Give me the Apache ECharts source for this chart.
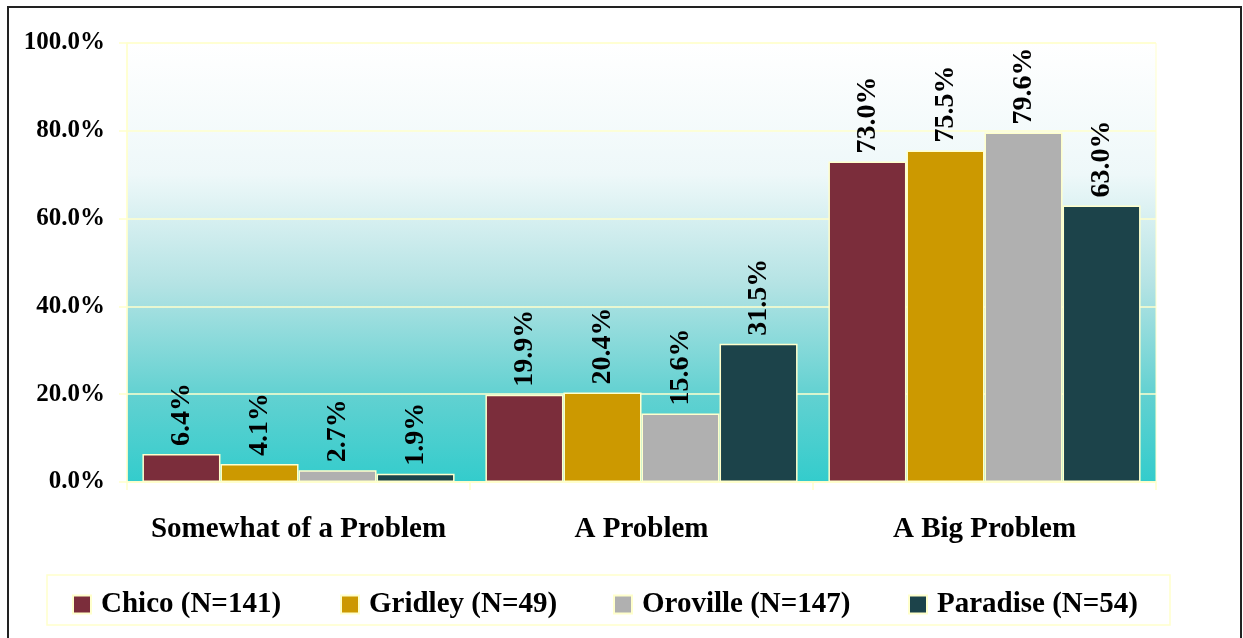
<!DOCTYPE html>
<html>
<head>
<meta charset="utf-8">
<script src="https://cdn.jsdelivr.net/npm/echarts@6/dist/echarts.min.js"></script>
<style>
  html, body { margin: 0; padding: 0; background: #fff; }
  #main { width: 1243px; height: 638px; }
</style>
</head>
<body>
<div id="main"></div>
<script>
// data
var categories = ['Somewhat of a Problem', 'A Problem', 'A Big Problem'];
var seriesNames = ['Chico (N=141)', 'Gridley (N=49)', 'Oroville (N=147)', 'Paradise (N=54)'];
var chico = [6.4, 19.9, 73.0];
var gridley = [4.1, 20.4, 75.5];
var oroville = [2.7, 15.6, 79.6];
var paradise = [1.9, 31.5, 63.0];
var yTicks = [0, 20, 40, 60, 80, 100];

var colors = ['#7b2d3b', '#cc9900', '#b0b0b0', '#1c434a'];
var allValues = [chico, gridley, oroville, paradise];
var FONT = 'Liberation Serif';
var pale = '#ffffcc';
// left edge of each legend entry, spread out like the original
var legendLeft = [72, 340, 613, 908];

var chartDom = document.getElementById('main');
var myChart = echarts.init(chartDom);

var series = [];
var legends = [];
for (var i = 0; i < seriesNames.length; i++) {
  series.push({
    name: seriesNames[i],
    type: 'bar',
    data: allValues[i],
    barGap: '0%',
    barCategoryGap: '9%',
    itemStyle: {
      color: colors[i],
      borderColor: pale,
      borderWidth: 1.5
    },
    label: {
      show: true,
      position: 'top',
      rotate: 90,
      align: 'left',
      verticalAlign: 'middle',
      distance: 8,
      color: '#000',
      fontFamily: FONT,
      fontWeight: 'bold',
      fontSize: 28,
      formatter: function (p) { return p.value.toFixed(1) + '%'; }
    }
  });
  legends.push({
    data: [seriesNames[i]],
    left: legendLeft[i],
    top: 590,
    padding: 0,
    icon: 'rect',
    itemWidth: 18,
    itemHeight: 18,
    selectedMode: false,
    textStyle: {
      fontFamily: FONT, fontWeight: 'bold', fontSize: 29, color: '#000',
      padding: [0, 0, 0, 5]
    }
  });
}

var option = {
  animation: false,
  backgroundColor: '#fff',
  graphic: [{
    type: 'rect',
    shape: { x: 8, y: 7, width: 1233, height: 700 },
    style: { fill: 'none', stroke: '#222', lineWidth: 2 }
  }, {
    type: 'rect',
    shape: { x: 47, y: 575, width: 1123, height: 50 },
    style: { fill: 'none', stroke: pale, lineWidth: 1.5 }
  }],
  grid: {
    left: 127,
    right: 87,
    top: 43,
    bottom: 156,
    show: true,
    borderColor: pale,
    borderWidth: 1,
    backgroundColor: {
      type: 'linear', x: 0, y: 0, x2: 0, y2: 1,
      colorStops: [
        { offset: 0, color: '#ffffff' },
        { offset: 0.3, color: '#eef8f9' },
        { offset: 0.55, color: '#b4e3e4' },
        { offset: 0.8, color: '#62d1d1' },
        { offset: 1, color: '#33cccc' }
      ]
    }
  },
  legend: legends,
  xAxis: {
    type: 'category',
    data: categories,
    axisLine: { lineStyle: { color: pale, width: 1.5 } },
    axisTick: { show: true, length: 8, lineStyle: { color: pale, width: 1.5 } },
    axisLabel: {
      interval: 0,
      margin: 33,
      color: '#000',
      fontFamily: FONT,
      fontWeight: 'bold',
      fontSize: 29
    }
  },
  yAxis: {
    type: 'value',
    min: yTicks[0],
    max: yTicks[yTicks.length - 1],
    interval: yTicks[1] - yTicks[0],
    axisLine: { show: true, lineStyle: { color: pale, width: 1.5 } },
    axisTick: { show: true, length: 8, lineStyle: { color: pale, width: 1.5 } },
    splitLine: { lineStyle: { color: pale, width: 1.5 } },
    axisLabel: {
      margin: 22,
      color: '#000',
      fontFamily: FONT,
      fontWeight: 'bold',
      fontSize: 25,
      formatter: function (v) { return v.toFixed(1) + '%'; }
    }
  },
  series: series
};

option && myChart.setOption(option);
</script>
</body>
</html>
